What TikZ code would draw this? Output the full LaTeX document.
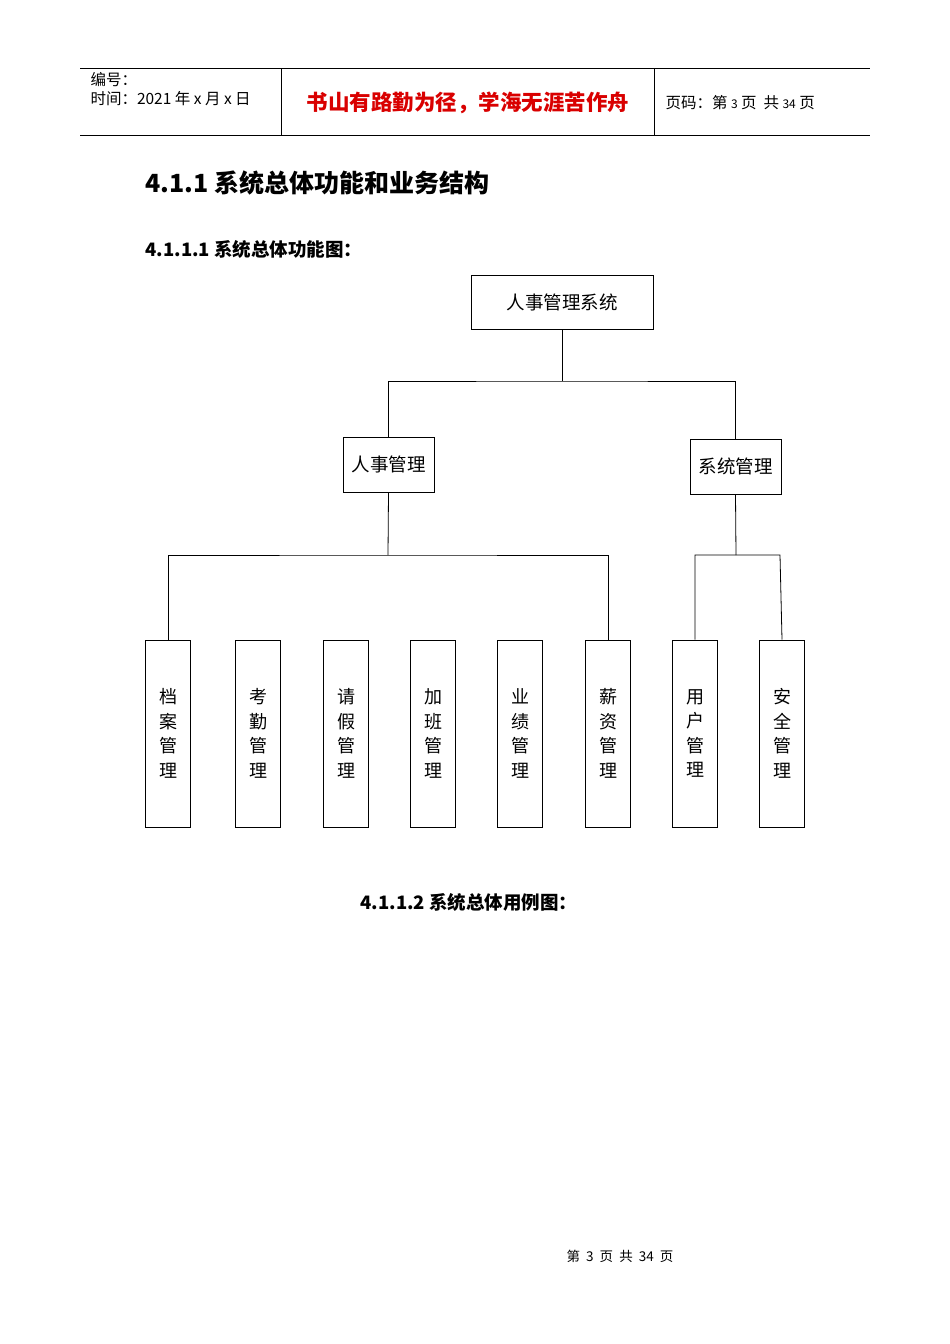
\documentclass[tikz,border=0pt]{standalone}
\usepackage{fontspec}
\setmainfont{DejaVu Sans}
\newfontfamily\cjk{Noto Sans CJK SC}
\begin{document}
\begin{tikzpicture}[x=1pt,y=-1pt,
  box/.style={draw,thick,minimum width=#1,inner sep=0pt,font=\cjk\fontsize{18.5}{20}\selectfont},
  leaf/.style={draw,thick,minimum width=45pt,minimum height=187pt,inner sep=0pt,align=center,font=\cjk\fontsize{18}{24.6}\selectfont},
  conn/.style={thick}]
\useasboundingbox (0,0) rectangle (950,1344);
\fill[white] (0,0) rectangle (950,1344);
% header
\draw (80,68) -- (870,68); \draw (80,135) -- (870,135);
\draw (281,68) -- (281,135); \draw (654,68) -- (654,135);
\node[anchor=west,font=\cjk\fontsize{15.5}{16}\selectfont] (h1) at (87,80) {编号：};
\node[anchor=west,font=\cjk\fontsize{15.5}{16}\selectfont] (h2) at (87,99) {时间：2021 年 x 月 x 日};
\node[font=\cjk\bfseries\fontsize{21.5}{22}\selectfont,text=red!85!black] (motto) at (468,103) {书山有路勤为径，学海无涯苦作舟};
\node[anchor=west,font=\cjk\fontsize{15.5}{16}\selectfont] (pg) at (662,103) {页码：第 {\fontsize{12}{12}\selectfont 3} 页\ \ 共 {\fontsize{12}{12}\selectfont 34} 页};
% titles
\node[anchor=west,font=\cjk\bfseries\fontsize{25}{26}\selectfont] (t1) at (142,183) {\textbf{4.1.1} 系统总体功能和业务结构};
\node[anchor=west,font=\cjk\bfseries\fontsize{18.5}{19}\selectfont] (t2) at (142,249) {\textbf{4.1.1.1} 系统总体功能图：};
\node[font=\cjk\bfseries\fontsize{18.5}{19}\selectfont] (t3) at (469,902) {\textbf{4.1.1.2} 系统总体用例图：};
\node[font=\cjk\fontsize{13.5}{14}\selectfont] (foot) at (620,1256) {第 \ 3 \ 页 \ 共 \ 34 \ 页};
% boxes
\node[box=182pt,minimum height=54pt] (root) at (562,302) {人事管理系统};
\node[box=91pt,minimum height=55pt] (rs) at (388.5,464.5) {人事管理};
\node[box=91pt,minimum height=55pt] (xt) at (735.5,466.5) {系统管理};
\foreach \n/\x/\t in {a/168/档\\案\\管\\理, b/258/考\\勤\\管\\理, c/346/请\\假\\管\\理, d/433/加\\班\\管\\理, e/520/业\\绩\\管\\理, f/608/薪\\资\\管\\理, g/695/用\\户\\管\\理, h/782/安\\全\\管\\理}
  \node[leaf] (\n) at (\x,733.5) {\t};
% connectors
\coordinate (j1) at (562,381);
\coordinate (j2) at (388,555);
\coordinate (j3) at (736,555);
\draw[conn] (root.south) -- (j1);
\draw[conn] (rs.north) |- (j1) -| (xt.north);
\draw[conn] (rs.south) -- (j2);
\draw[conn] (a.north) |- (j2) -| (f.north);
\draw[conn] (xt.south) -- (j3);
\coordinate (j4) at (780,555);
\draw[conn] (g.north) |- (j4) -- (h.north);
\end{tikzpicture}
\end{document}
